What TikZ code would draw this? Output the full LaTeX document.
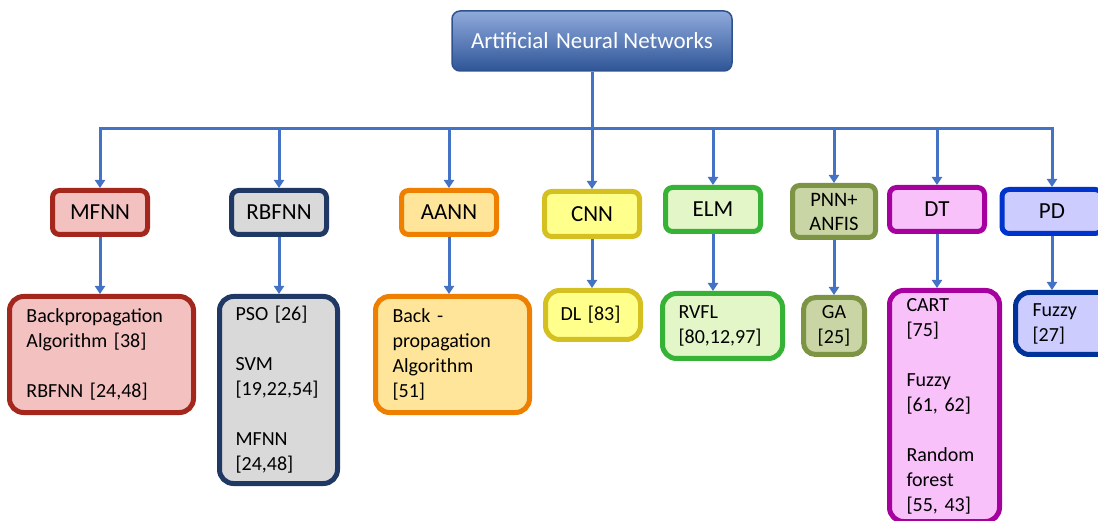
\documentclass[tikz,border=0pt]{standalone}
\usepackage{fontspec}
\setmainfont{Carlito}
\usepackage{xcolor}
\usepackage{tikz}
\usetikzlibrary{arrows.meta}

\definecolor{linkblue}{HTML}{4472C4}
\definecolor{annline}{HTML}{2F528F}
\definecolor{anntop}{HTML}{8FAADC}
\definecolor{annbot}{HTML}{2F5597}
\definecolor{mfnnline}{HTML}{A3271D}
\definecolor{mfnnfill}{HTML}{F4C1C1}
\definecolor{rbfline}{HTML}{203864}
\definecolor{rbffill}{HTML}{D9D9D9}
\definecolor{aannline}{HTML}{EE7F00}
\definecolor{aannfill}{HTML}{FFE599}
\definecolor{cnnline}{HTML}{D4C021}
\definecolor{cnnfill}{HTML}{FFFF8C}
\definecolor{elmline}{HTML}{36B336}
\definecolor{elmfill}{HTML}{E2F6C7}
\definecolor{pnnline}{HTML}{7E9445}
\definecolor{pnnfill}{HTML}{C9D5A4}
\definecolor{dtline}{HTML}{A6009F}
\definecolor{dtfill}{HTML}{F8C1FA}
\definecolor{pdline}{HTML}{0033CC}
\definecolor{pdsubline}{HTML}{003399}
\definecolor{pdfill}{HTML}{CCCCFF}

\begin{document}
\begin{tikzpicture}[
      x=1pt, y=-1pt,
      link/.style={draw=linkblue, line width=3pt},
      tip/.style={link, -{Triangle[length=8pt,width=10pt]}},
      catbox/.style={draw, line width=5pt, rounded corners=7pt,
        align=center, inner sep=0pt, minimum width=95pt, minimum height=44pt,
        font=\fontsize{23}{27}\selectfont},
      subbox/.style={draw, line width=5pt, rounded corners=14pt,
        align=left, inner xsep=17pt, inner ysep=0pt,
        font=\fontsize{20}{25}\selectfont},
    ]
    \useasboundingbox (0,0) rectangle (1098,521);
    \clip (0,0) rectangle (1098,521);
    %% Root.
    \node[draw=annline, line width=1.5pt, rounded corners=8pt,
          top color=anntop, bottom color=annbot, text=white,
          minimum width=280pt, minimum height=60pt,
          font=\fontsize{23}{27}\selectfont] (ann) at (592,41)
          {Artificial\hspace{0.32em}Neural Networks};
    %% First level.
    \node[catbox, draw=mfnnline, fill=mfnnfill] (mfnn) at (100,212.5) {MFNN};
    \node[catbox, draw=rbfline, fill=rbffill] (rbfnn) at (279,212.5) {RBFNN};
    \node[catbox, draw=aannline, fill=aannfill] (aann) at (449,212.5) {AANN};
    \node[catbox, draw=cnnline, fill=cnnfill, minimum height=45pt] (cnn) at (592,214) {CNN};
    \node[catbox, draw=elmline, fill=elmfill] (elm) at (713,209.5) {ELM};
    \node[catbox, draw=pnnline, fill=pnnfill, minimum width=83pt, minimum height=52pt,
          font=\fontsize{20.5}{24}\selectfont] (pnn) at (834,211.5) {PNN+\\ANFIS};
    \node[catbox, draw=dtline, fill=dtfill] (dt) at (937,209.5) {DT};
    \node[catbox, draw=pdline, fill=pdfill, minimum width=100pt] (pd) at (1052,211.5) {PD};
    %% Second level.
    \node[subbox, draw=mfnnline, fill=mfnnfill, text width=150pt, minimum height=116pt]
          (mfnnsub) at (101.5,354.5)
          {Backpropagation\\ Algorithm [38]\\[25pt] RBFNN [24,48]};
    \node[subbox, draw=rbfline, fill=rbffill, inner xsep=16pt, text width=86pt, minimum height=187pt]
          (rbfsub) at (278.5,390)
          {PSO [26]\\[25pt] SVM\\ {[19,22,54]}\\[25pt] MFNN\\ {[24,48]}};
    \node[subbox, draw=aannline, fill=aannfill, text width=120pt, minimum height=116pt]
          (aannsub) at (452.5,354.5)
          {Back -\\ propagation\\ Algorithm\\ {[51]}};
    \node[subbox, draw=cnnline, fill=cnnfill, inner xsep=15pt, text width=65pt, minimum height=49pt]
          (cnnsub) at (593,315) {DL [83]};
    \node[subbox, draw=elmline, fill=elmfill, inner xsep=16pt, text width=88pt, minimum height=65pt]
          (elmsub) at (722.5,326) {RVFL\\ {[80,12,97]}};
    \node[subbox, draw=pnnline, fill=pnnfill, align=center, inner xsep=0pt,
          rounded corners=12pt, minimum width=61pt, minimum height=57pt]
          (gasub) at (834,326) {GA\\ {[25]}};
    \node[subbox, draw=dtline, fill=dtfill, text width=76pt, minimum height=231pt]
          (dtsub) at (944.5,406)
          {CART\\ {[75]}\\[25pt] Fuzzy\\ {[61, 62]}\\[25pt] Random\\ forest\\ {[55, 43]}};
    \node[subbox, draw=pdsubline, fill=pdfill, text width=63pt, minimum height=62pt]
          (pdsub) at (1064,323.5) {Fuzzy\\ {[27]}};
    %% Bus from the root to every category.
    \coordinate (bus) at (592,129);
    \draw[link] (ann.south) -- (ann.south |- bus);
    \draw[link, line cap=rect] (mfnn |- bus) -- (pd |- bus);
    \foreach \n in {mfnn,rbfnn,aann,cnn,elm,pnn,dt,pd}
      \draw[tip] (\n |- bus) -- (\n.north);
    %% Category to its methods.
    \draw[tip] (mfnn.south) -- (mfnn.south |- mfnnsub.north);
    \draw[tip] (rbfnn.south) -- (rbfnn.south |- rbfsub.north);
    \draw[tip] (aann.south) -- (aann.south |- aannsub.north);
    \draw[tip] (cnn.south) -- (cnn.south |- cnnsub.north);
    \draw[tip] (elm.south) -- (elm.south |- elmsub.north);
    \draw[tip] (pnn.south) -- (pnn.south |- gasub.north);
    \draw[tip] (dt.south) -- (dt.south |- dtsub.north);
    \draw[tip] (pd.south) -- (pd.south |- pdsub.north);
  \end{tikzpicture}
\end{document}
